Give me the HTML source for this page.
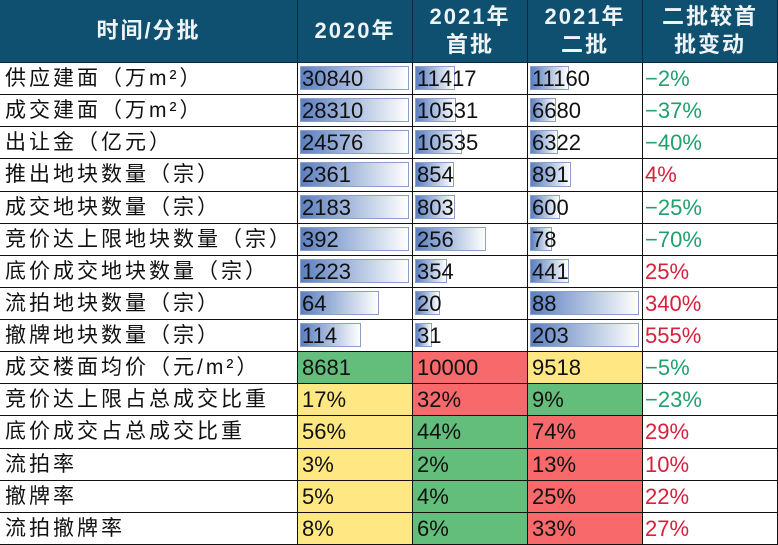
<!DOCTYPE html>
<html><head><meta charset="utf-8">
<style>
body{margin:0;width:778px;height:545px;overflow:hidden;background:#fff;font-family:"Liberation Sans","Noto Sans CJK SC",sans-serif;}
#t{position:absolute;left:0;top:0;width:778px;height:545px;}
.c{position:absolute;box-sizing:border-box;border-right:1.5px solid #111;border-bottom:1.5px solid #111;overflow:hidden;white-space:nowrap;}
.h{background:#0f4f6f;color:#eef4f6;font-weight:bold;font-size:22px;text-align:center;display:flex;align-items:center;justify-content:center;line-height:28px;letter-spacing:2px;border-color:#0a2b3d;}
.lab{font-size:21px;color:#111;padding-left:5px;line-height:31px;letter-spacing:3px;}
.v{font-size:22px;color:#111;line-height:31px;}
.bar{position:absolute;left:2px;top:3px;bottom:4px;border:1px solid #8aa0c8;background:linear-gradient(90deg,#5b7fc0,#fff);box-sizing:border-box;}
.tx{position:relative;padding-left:4px;}
</style></head><body>
<div id="t"></div>
<script>
const headers=["时间/分批","2020年","2021年<br>首批","2021年<br>二批","二批较首<br>批变动"];
const labels=["供应建面（万m²）","成交建面（万m²）","出让金（亿元）","推出地块数量（宗）","成交地块数量（宗）","竞价达上限地块数量（宗）","底价成交地块数量（宗）","流拍地块数量（宗）","撤牌地块数量（宗）","成交楼面均价（元/m²）","竞价达上限占总成交比重","底价成交占总成交比重","流拍率","撤牌率","流拍撤牌率"];
const v2020=[30840,28310,24576,2361,2183,392,1223,64,114,8681,17,56,3,5,8];
const v2021a=[11417,10531,10535,854,803,256,354,20,31,10000,32,44,2,4,6];
const v2021b=[11160,6680,6322,891,600,78,441,88,203,9518,9,74,13,25,33];
const change=[-2,-37,-40,4,-25,-70,25,340,555,-5,-23,29,10,22,27];
const pctRows=[10,11,12,13,14];
const barRows=9;
const colX=[0,298,413,528,643,778];
const headH=63, rowH=(545-63)/15;
const t=document.getElementById('t');
function cell(x,y,w,h,cls,html){const d=document.createElement('div');d.className='c '+cls;d.style.left=x+'px';d.style.top=y+'px';d.style.width=w+'px';d.style.height=h+'px';d.innerHTML=html;t.appendChild(d);return d;}
const hn=['header-period','header-2020','header-2021-first','header-2021-second','header-change'];
headers.forEach((h,i)=>{const d=cell(colX[i],0,colX[i+1]-colX[i],headH,'h',h);

});
const cols=[v2020,v2021a,v2021b];
const scale={low:'#63be7b',mid:'#ffe884',high:'#f8696b'};
labels.forEach((lab,r)=>{
 const y=headH+r*rowH;
 const l=cell(0,y,colX[1],rowH,'lab',lab);
 
 
 const vals=cols.map(c=>c[r]);
 const mx=Math.max(...vals);
 const sorted=[...vals].sort((a,b)=>a-b);
 cols.forEach((c,i)=>{
  const w=colX[i+2]-colX[i+1];
  const isPct=pctRows.includes(r);
  const txt=c[r]+(isPct?'%':'');
  const d=cell(colX[i+1],y,w,rowH,'v','');
  
  
  if(r<barRows){
   const b=document.createElement('div');b.className='bar';
   
   
   b.style.width=Math.max(6,(w-6)*c[r]/mx)+'px';d.appendChild(b);
  }else{
   const rk=sorted.indexOf(c[r]);
   d.style.background=rk===0?scale.low:rk===2?scale.high:scale.mid;
  }
  const s=document.createElement('span');s.className='tx';s.textContent=txt;d.appendChild(s);
 });
 const ch=cell(colX[4],y,colX[5]-colX[4],rowH,'v','<span class="tx" style="padding-left:2px">'+(change[r]<0?'−':'')+Math.abs(change[r])+'%</span>');
 ch.style.color=change[r]<0?'#22a06b':'#d8203a';
 
 
});
</script>
</body></html>
